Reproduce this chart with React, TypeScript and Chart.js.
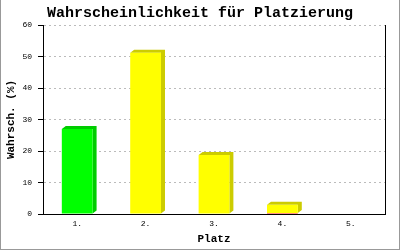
import React, { useEffect, useRef } from "react";
import { Chart, registerables } from "chart.js";

Chart.register(...registerables);

const categories = ["1.", "2.", "3.", "4.", "5."];
const mainValues = [27, 51.2, 18.7, 2.6, 0];
const redValues = [0, 0, 0, 0.3, 0];
const yMin = 0;
const yMax = 60;
const yStep = 10;

const mainColors = ["#00ff00", "#ffff00", "#ffff00", "#ffff00", "#ffff00"];
const mainSideColors = ["#00cc00", "#cccc00", "#cccc00", "#cccc00", "#cccc00"];
const redColor = "#ff0000";
const redSideColor = "#cc0000";

const MONO = "'Liberation Mono', 'DejaVu Sans Mono', monospace";
const DX = 4;
const DY = -3;

const depthPlugin = {
  id: "depth3d",
  beforeDatasetsDraw(chart: any) {
    const ctx = chart.ctx;
    chart.data.datasets.forEach((ds: any, di: number) => {
      const meta = chart.getDatasetMeta(di);
      if (meta.hidden) return;
      meta.data.forEach((el: any, i: number) => {
        const { x, y, base, width } = el.getProps(["x", "y", "base", "width"], true);
        if (Math.abs(base - y) < 0.5) return;
        const l = x - width / 2;
        const r = x + width / 2;
        const side = Array.isArray(ds.sideColor) ? ds.sideColor[i] : ds.sideColor;
        ctx.save();
        ctx.fillStyle = side;
        ctx.beginPath();
        ctx.moveTo(l, y);
        ctx.lineTo(l + DX, y + DY);
        ctx.lineTo(r + DX, y + DY);
        ctx.lineTo(r + DX, base + DY);
        ctx.lineTo(r, base);
        ctx.lineTo(r, y);
        ctx.closePath();
        ctx.fill();
        ctx.restore();
      });
    });
  },
};

export default function App() {
  const ref = useRef<HTMLCanvasElement | null>(null);

  useEffect(() => {
    if (!ref.current) return;
    const chart = new Chart(ref.current, {
      type: "bar",
      data: {
        labels: categories,
        datasets: [
          {
            label: "Rest",
            data: redValues,
            backgroundColor: redColor,
            sideColor: redSideColor,
            borderWidth: 0,
            yAxisID: "y",
          } as any,
          {
            label: "Wahrscheinlichkeit",
            data: mainValues,
            backgroundColor: mainColors,
            sideColor: mainSideColors,
            borderWidth: 0,
            yAxisID: "y",
          } as any,
        ],
      },
      options: {
        animation: false,
        responsive: false,
        devicePixelRatio: 1,
        layout: { padding: 0 },
        datasets: { bar: { categoryPercentage: 1, barPercentage: 0.45 } },
        plugins: {
          legend: { display: false },
          tooltip: { enabled: false },
          title: {
            display: true,
            text: "Wahrscheinlichkeit für Platzierung",
            color: "#000",
            font: { family: MONO, size: 15, weight: "bold" },
            padding: { top: 4, bottom: 3 },
          },
        },
        scales: {
          x: {
            stacked: true,
            grid: { display: false, drawTicks: false },
            border: { display: true, color: "#000", width: 1 },
            ticks: { color: "#000", font: { family: MONO, size: 8 }, padding: 5 },
            title: {
              display: true,
              text: "Platz",
              color: "#000",
              font: { family: MONO, size: 11, weight: "bold" },
              padding: { top: 0, bottom: 4 },
            },
            afterFit: (s: any) => {
              s.height = 36;
            },
          },
          y: {
            stacked: true,
            min: yMin,
            max: yMax,
            position: "left",
            ticks: { stepSize: yStep, color: "#000", font: { family: MONO, size: 8 }, padding: 6 },
            grid: {
              color: "#bbbbbb",
              lineWidth: 1,
              tickLength: 5,
              tickColor: "#000",
              tickBorderDash: [],
            },
            border: { display: true, color: "#000", width: 1, dash: [2, 3] },
            title: {
              display: true,
              text: "Wahrsch. (%)",
              color: "#000",
              font: { family: MONO, size: 11, weight: "bold" },
              padding: { top: 5, bottom: 0 },
            },
            afterFit: (s: any) => {
              s.width = 43;
            },
          },
          y2: {
            position: "right",
            display: true,
            grid: { display: false, drawTicks: false },
            ticks: { display: false },
            border: { display: true, color: "#000", width: 1 },
            afterFit: (s: any) => {
              s.width = 15;
            },
          },
        },
      } as any,
      plugins: [depthPlugin],
    });
    return () => chart.destroy();
  }, []);

  return (
    <div style={{ position: "absolute", left: 0, top: 0, width: 400, height: 250, background: "#fff" }}>
      <canvas ref={ref} width={400} height={250} style={{ position: "absolute", left: 0, top: 0, width: 400, height: 250 }} />
      <div
        style={{
          position: "absolute",
          left: 0,
          top: 0,
          width: 400,
          height: 250,
          boxSizing: "border-box",
          borderLeft: "1px solid #999",
          borderRight: "1px solid #999",
          borderBottom: "1px solid #999",
          pointerEvents: "none",
        }}
      />
    </div>
  );
}
